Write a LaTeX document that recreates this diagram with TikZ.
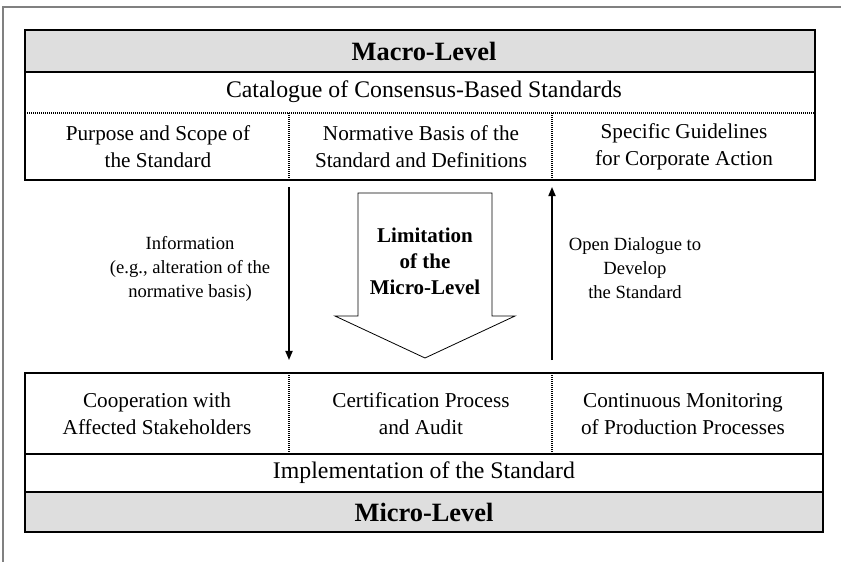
\documentclass[tikz,border=0pt]{standalone}
\usepackage{fontspec}
\setmainfont{Liberation Serif}
\usetikzlibrary{arrows.meta}

\begin{document}
\begin{tikzpicture}[
      x=0.5pt, y=-0.5pt,
      > = {Triangle[length=4.6pt,width=3.6pt]},
      semithick]
      \tikzstyle{level}=[font=\bfseries\fontsize{13.2}{15}\selectfont]
      \tikzstyle{band}=[font=\fontsize{11.9}{14}\selectfont]
      \tikzstyle{cell}=[font=\fontsize{10.6}{13.4}\selectfont, align=center]
      \tikzstyle{note}=[font=\fontsize{9.3}{12}\selectfont, align=center]
      \tikzstyle{limit}=[font=\bfseries\fontsize{10.5}{13}\selectfont, align=center]
      \tikzstyle{divider}=[line width=0.6pt, dash pattern=on 0.6pt off 0.4pt]
      \tikzstyle{outline}=[line width=1.1pt]

      \useasboundingbox (0,0) rectangle (841,562);
      % page frame
      \draw[gray, line width=0.6pt] (841,7) -- (3,7) -- (3,562);

      % macro level
      \fill[black!13] (25,30) rectangle (815,72);
      \draw (25,72) -- (815,72);
      \draw[divider] (25,113) -- (815,113);
      \draw[divider] (289,113) -- (289,180);
      \draw[divider] (552,113) -- (552,180);
      \draw[outline] (25,30) rectangle (815,180);

      \node[level] (macro) at (424,51) {Macro-Level};
      \node[band] (catalogue) at (424,92) {Catalogue of Consensus-Based Standards};
      \node[cell] (purpose) at (158,147) {Purpose and Scope of\\the Standard};
      \node[cell] (normative) at (421,147) {Normative Basis of the\\Standard and Definitions};
      \node[cell] (guidelines) at (684,147) {Specific Guidelines\\for Corporate Action};

      % micro level
      \fill[black!13] (25,492) rectangle (823,532);
      \draw (25,454) -- (823,454);
      \draw (25,492) -- (823,492);
      \draw[divider] (289,373) -- (289,454);
      \draw[divider] (552,373) -- (552,454);
      \draw[outline] (25,373) rectangle (823,532);

      \node[cell] (cooperation) at (157,414) {Cooperation with\\Affected Stakeholders};
      \node[cell] (audit) at (421,414) {Certification Process\\and Audit};
      \node[cell] (monitoring) at (683,414) {Continuous Monitoring\\of Production Processes};
      \node[band] (implementation) at (424,473) {Implementation of the Standard};
      \node[level] (micro) at (424,512) {Micro-Level};

      % exchange between the levels
      \coordinate (infoTop) at (289,187);
      \coordinate (infoEnd) at (289,360);
      \coordinate (dialogTop) at (552,187);
      \coordinate (dialogEnd) at (552,360);
      \draw[->, line width=0.8pt] (infoTop) -- (infoEnd);
      \draw[->, line width=0.8pt] (dialogEnd) -- (dialogTop);

      \node[note] (info) at (190,269) {Information\\(e.g., alteration of the\\normative basis)};
      \node[note] (dialog) at (635,268) {Open Dialogue to\\Develop\\the Standard};

      % block arrow
      \draw[thin, fill=white] (358,193) -- (492,193) -- (492,316) -- (515,316)
            -- (425,358) -- (335,316) -- (358,316) -- cycle;
      \node[limit] (limitation) at (425,261) {Limitation\\of the\\Micro-Level};
\end{tikzpicture}
\end{document}
